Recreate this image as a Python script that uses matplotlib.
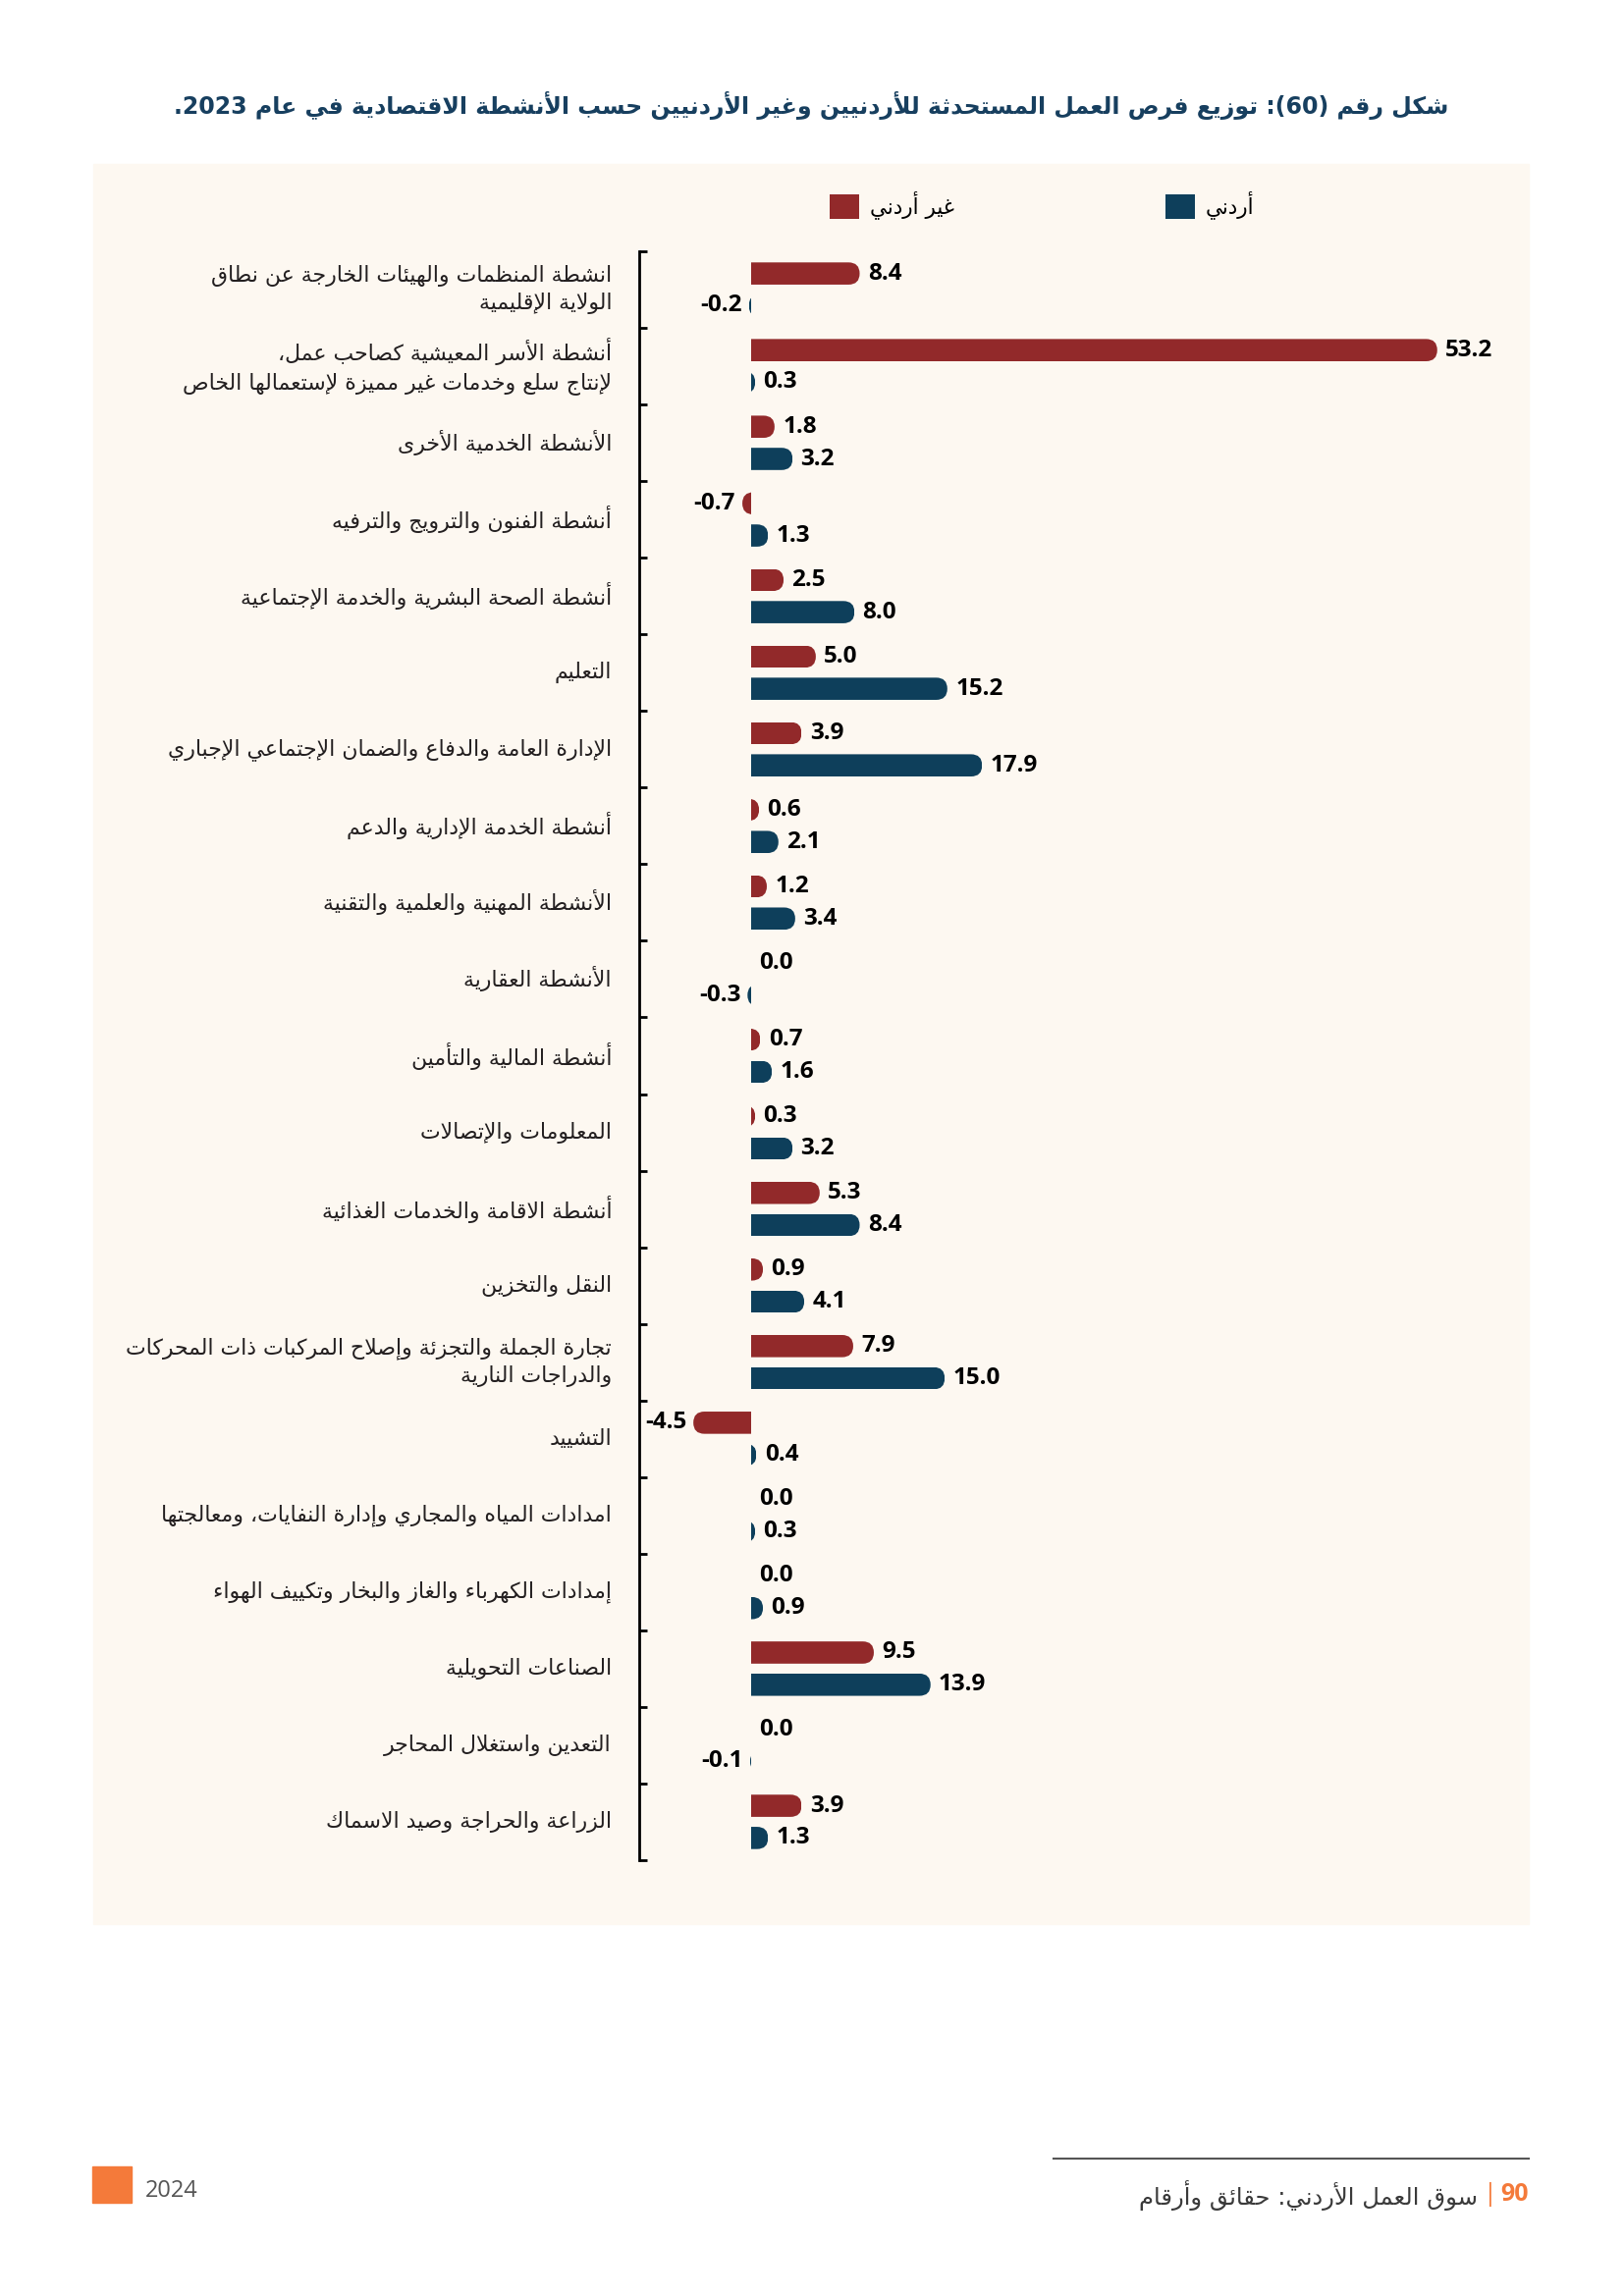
import re
import matplotlib
matplotlib.use("Agg")
import matplotlib.pyplot as plt
from matplotlib.patches import FancyBboxPatch, Rectangle
from matplotlib.lines import Line2D
from matplotlib.transforms import blended_transform_factory

# البيانات (من الأعلى إلى الأسفل)
categories = [
    "انشطة المنظمات والهيئات الخارجة عن نطاق\nالولاية الإقليمية",
    "أنشطة الأسر المعيشية كصاحب عمل،\nلإنتاج سلع وخدمات غير مميزة لإستعمالها الخاص",
    "الأنشطة الخدمية الأخرى",
    "أنشطة الفنون والترويج والترفيه",
    "أنشطة الصحة البشرية والخدمة الإجتماعية",
    "التعليم",
    "الإدارة العامة والدفاع والضمان الإجتماعي الإجباري",
    "أنشطة الخدمة الإدارية والدعم",
    "الأنشطة المهنية والعلمية والتقنية",
    "الأنشطة العقارية",
    "أنشطة المالية والتأمين",
    "المعلومات والإتصالات",
    "أنشطة الاقامة والخدمات الغذائية",
    "النقل والتخزين",
    "تجارة الجملة والتجزئة وإصلاح المركبات ذات المحركات\nوالدراجات النارية",
    "التشييد",
    "امدادات المياه والمجاري وإدارة النفايات، ومعالجتها",
    "إمدادات الكهرباء والغاز والبخار وتكييف الهواء",
    "الصناعات التحويلية",
    "التعدين واستغلال المحاجر",
    "الزراعة والحراجة وصيد الاسماك",
]
non_jordanian = [8.4, 53.2, 1.8, -0.7, 2.5, 5.0, 3.9, 0.6, 1.2, 0.0, 0.7,
                 0.3, 5.3, 0.9, 7.9, -4.5, 0.0, 0.0, 9.5, 0.0, 3.9]
jordanian = [-0.2, 0.3, 3.2, 1.3, 8.0, 15.2, 17.9, 2.1, 3.4, -0.3, 1.6,
             3.2, 8.4, 4.1, 15.0, 0.4, 0.3, 0.9, 13.9, -0.1, 1.3]
series_names = ["غير أردني", "أردني"]

title = "شكل رقم (60): توزيع فرص العمل المستحدثة للأردنيين وغير الأردنيين حسب الأنشطة الاقتصادية في عام 2023."
footer_text = "سوق العمل الأردني: حقائق وأرقام"
page_number = "90"
year_text = "2024"

red = "#92292a"
blue = "#0e3f5b"
title_color = "#173f5f"
panel_color = "#fdf8f1"
text_color = "#231f20"
orange = "#f47a3a"
num_font = "Open Sans"

# matplotlib 3.10 لا يقوم بتشكيل الحروف العربية، لذلك نحولها لأشكال العرض
spec = ([(0x621, 1)] + [(c, 2) for c in range(0x622, 0x626)]
        + [(0x626, 4), (0x627, 2), (0x628, 4), (0x629, 2)]
        + [(c, 4) for c in range(0x62A, 0x62F)] + [(c, 2) for c in range(0x62F, 0x633)]
        + [(c, 4) for c in range(0x633, 0x63B)] + [(c, 4) for c in range(0x641, 0x648)]
        + [(0x648, 2), (0x649, 2), (0x64A, 4)])
FORMS = {}
code = 0xFE80
for c, n in spec:
    FORMS[chr(c)] = [chr(code + k) for k in range(n)]
    code += n
LAM_ALEF = {"آ": 0xFEF5, "أ": 0xFEF7, "إ": 0xFEF9, "ا": 0xFEFB}
MIRROR = {"(": ")", ")": "(", "[": "]", "]": "["}


def shape_line(s):
    out = []
    i = 0
    while i < len(s):
        ch = s[i]
        if ch not in FORMS:
            out.append(ch)
            i += 1
            continue
        prev = s[i - 1] if i > 0 else ""
        nxt = s[i + 1] if i + 1 < len(s) else ""
        join_prev = len(FORMS.get(prev, [])) == 4
        if ch == "ل" and nxt in LAM_ALEF:
            out.append(chr(LAM_ALEF[nxt] + (1 if join_prev else 0)))
            i += 2
            continue
        join_next = len(FORMS[ch]) == 4 and nxt in FORMS and nxt != "ء"
        if len(FORMS[ch]) == 1:
            idx = 0
        elif join_prev and join_next:
            idx = 3
        elif join_prev:
            idx = 1
        elif join_next:
            idx = 2
        else:
            idx = 0
        out.append(FORMS[ch][idx])
        i += 1
    tokens = re.findall(r"[0-9A-Za-z]+(?:\.[0-9]+)?|.", "".join(out))
    return "".join(MIRROR.get(t, t) for t in reversed(tokens))


def ar(text):
    return "\n".join(shape_line(line) for line in text.split("\n"))


W, H = 1654, 2339
fig = plt.figure(figsize=(W / 100, H / 100), dpi=100)
fig.patches.append(Rectangle((95 / W, 1 - 1960 / H), (1557 - 95) / W, (1960 - 167) / H,
                             transform=fig.transFigure, color=panel_color, zorder=-1))

ax = fig.add_axes([651 / W, 1 - 1895 / H, (1557 - 651) / W, (1895 - 256) / H])
ax.set_facecolor("none")
ax.set_zorder(1)
n = len(categories)
ypos = list(range(n))
ax.set_xlim(-8.7, 60.3)
ax.set_ylim(n - 0.5, -0.5)

off, bh = 0.21, 0.29
red_bars = ax.barh([i - off for i in ypos], non_jordanian, height=bh, color=red, linewidth=0)
blue_bars = ax.barh([i + off for i in ypos], jordanian, height=bh, color=blue, linewidth=0)

# أطراف دائرية للأعمدة
px_x = ax.transData.transform((1, 0))[0] - ax.transData.transform((0, 0))[0]
px_y = abs(ax.transData.transform((0, 1))[1] - ax.transData.transform((0, 0))[1])
r_x = (bh / 2) * px_y / px_x
for bars, vals in ((red_bars, non_jordanian), (blue_bars, jordanian)):
    for rect, v in zip(bars, vals):
        if v == 0:
            continue
        start, width = (-20, v + 20) if v > 0 else (v, 20 - v)
        box = FancyBboxPatch((start, rect.get_y()), width, rect.get_height(),
                             boxstyle=f"round,pad=0,rounding_size={r_x}",
                             mutation_aspect=(bh / 2) / r_x, transform=ax.transData)
        rect.set_clip_path(box)

for vals, dy in ((non_jordanian, -off), (jordanian, off)):
    for i, v in enumerate(vals):
        ax.annotate(f"{v:.1f}", (v, i + dy), xytext=(6 if v >= 0 else -5, 0),
                    textcoords="offset points", ha="left" if v >= 0 else "right",
                    va="center", fontsize=17.5, fontweight="bold", family=num_font,
                    color="black")

for s in ["top", "right", "bottom"]:
    ax.spines[s].set_visible(False)
ax.spines["left"].set_linewidth(2)
ax.set_xticks([])
ax.set_yticks([i - 0.5 for i in range(n + 1)])
ax.tick_params(axis="y", direction="in", length=6, width=2, labelleft=False)

trans = blended_transform_factory(ax.transAxes, ax.transData)
for i, c in enumerate(categories):
    ax.text(-28 / 906, i, ar(c), transform=trans, ha="right", va="center",
            fontsize=15.8, color=text_color, linespacing=1.4, family="DejaVu Sans")

ax.legend([red_bars, blue_bars], [ar(s) for s in series_names], ncol=2, frameon=False,
          loc="center left", bbox_to_anchor=(845 / W, 1 - 209 / H),
          bbox_transform=fig.transFigure, prop={"family": "DejaVu Sans", "size": 15.5},
          handlelength=1.4, handleheight=1.4, handletextpad=0.5, columnspacing=10.0,
          borderpad=0, borderaxespad=0)

fig.text(1475 / W, 1 - 107 / H, ar(title), ha="right", va="center", fontsize=17,
         fontweight="bold", color=title_color, family="DejaVu Sans")

# التذييل
fig.add_artist(Line2D([1073 / W, 1557 / W], [1 - 2199 / H] * 2, color="#555555", lw=1.5))
fig.patches.append(Rectangle((94 / W, 1 - 2244 / H), 40 / W, 37 / H,
                             transform=fig.transFigure, color=orange))
fig.text(148 / W, 1 - 2232 / H, year_text, fontsize=17, color="#555555", va="center",
         family=num_font)
renderer = fig.canvas.get_renderer()
t90 = fig.text(1557 / W, 1 - 2236 / H, page_number, ha="right", va="center", fontsize=18,
               fontweight="bold", color=orange, family=num_font)
x90 = t90.get_window_extent(renderer).x0
tbar = fig.text((x90 - 4) / W, 1 - 2236 / H, "|", ha="right", va="center", fontsize=18,
                color=orange, family=num_font)
xbar = tbar.get_window_extent(renderer).x0
fig.text((xbar - 6) / W, 1 - 2236 / H, ar(footer_text), ha="right", va="center",
         fontsize=17.5, color="#3a3a3a", family="DejaVu Sans")

fig.savefig("out.png", dpi=100, facecolor="white")
